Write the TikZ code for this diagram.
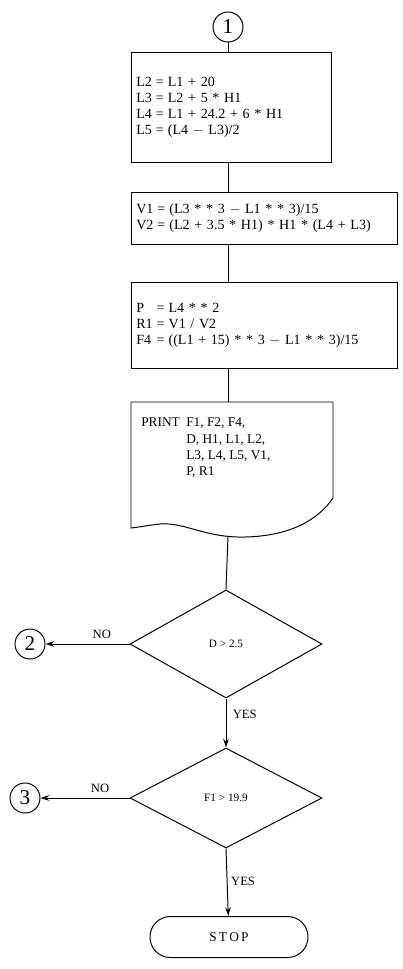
\documentclass[tikz,border=0pt]{standalone}
\usepackage{fontspec}
\setmainfont{Liberation Serif}
\usetikzlibrary{arrows.meta,positioning,shapes.geometric}
\tikzset{
  procbox/.style={rectangle, draw=black, line width=0.7pt, anchor=north west,
    align=left, inner xsep=1.2mm, font=\fontsize{10}{11.5}\selectfont},
  conn/.style={circle, draw=black, line width=0.7pt, minimum size=7.5mm,
    inner sep=0pt, font=\fontsize{15}{15}\selectfont},
  decide/.style={diamond, draw=black, line width=0.7pt, inner sep=0pt,
    minimum width=48mm, font=\fontsize{8}{9}\selectfont},
  term/.style={rectangle, rounded corners=5.1mm, draw=black, line width=0.7pt,
    minimum width=39.5mm, minimum height=10.25mm, font=\fontsize{9.5}{10}\selectfont},
  lbl/.style={font=\fontsize{9}{10}\selectfont, inner sep=1.5pt},
  fline/.style={line width=0.7pt},
  farr/.style={-{Stealth[length=2.2mm,width=1.4mm]}, line width=0.7pt},
}
\begin{document}
\begin{tikzpicture}[x=0.25mm,y=-0.25mm]
    \useasboundingbox (0,0) rectangle (403,969);
    % connector at the top
    \node[conn](c1) at (228,27) {1};
    % computing blocks
    \node[procbox, text width=47.6mm, minimum height=27.5mm](b1) at (131,52)
      {\begin{tabular}{@{}l@{\hspace{1mm}}l@{\hspace{1mm}}l@{}}
       L2 & = & L1 + 20\\
       L3 & = & L2 + 5 * H1\\
       L4 & = & L1 + 24.2 + 6 * H1\\
       L5 & = & (L4 $-$ L3)/2
       \end{tabular}};
    \node[procbox, text width=64.1mm, minimum height=13mm](b2) at (131,192)
      {\begin{tabular}{@{}l@{\hspace{1mm}}l@{\hspace{1mm}}l@{}}
       V1 & = & (L3 * * 3 $-$ L1 * * 3)/15\\
       V2 & = & (L2 + 3.5 * H1) * H1 * (L4 + L3)
       \end{tabular}};
    \node[procbox, text width=64.1mm, minimum height=21.5mm](b3) at (131,282)
      {\begin{tabular}{@{}l@{\hspace{1mm}}l@{\hspace{1mm}}l@{}}
       P & = & L4 * * 2\\
       R1 & = & V1 / V2\\
       F4 & = & ((L1 + 15) * * 3 $-$ L1 * * 3)/15
       \end{tabular}};
    % print document
    \draw[fline] (131,402) -- (333,402) -- (333,498)
      .. controls (318,520) and (290,536) .. (245,537)
      .. controls (205,538) and (185,522) .. (160,524)
      .. controls (150,525) and (140,527) .. (131,528) -- cycle;
    \coordinate (dtop) at (228,402);
    \coordinate (dbot) at (228,536);
    \node[anchor=north west, inner sep=0pt, font=\fontsize{9.5}{11.6}\selectfont](prt) at (141,415)
      {\begin{tabular}{@{}l@{\hspace{1.6mm}}l@{}}
       PRINT & F1, F2, F4,\\
             & D, H1, L1, L2,\\
             & L3, L4, L5, V1,\\
             & P, R1
       \end{tabular}};
    % decisions
    \node[decide, minimum height=27mm](d1) at (226,644) {D > 2.5};
    \node[decide, minimum height=25mm](d2) at (226,798) {F1 > 19.9};
    \node[conn](c2) at (30,644) {2};
    \node[conn](c3) at (25,798) {3};
    \node[term](stop) at (229,937) {S\,T\,O\,P};
    % connectors
    \draw[fline](c1)--(c1|-b1.north);
    \draw[fline](b1.south-|c1)--(b2.north-|c1);
    \draw[fline](b2.south-|c1)--(b3.north-|c1);
    \draw[fline](b3.south-|c1)--(dtop);
    \draw[fline](dbot)--(d1.north);
    \draw[farr](d1.west)--node[lbl,pos=0.33,above=2pt]{NO}(c2);
    \draw[farr](d2.west)--node[lbl,pos=0.33,above=2pt]{NO}(c3);
    \draw[farr](d1.south)--node[lbl,pos=0.33,right=3pt]{YES}(d2.north);
    \draw[farr](d2.south)--node[lbl,pos=0.49,right=1pt]{YES}(stop);
\end{tikzpicture}
\end{document}
